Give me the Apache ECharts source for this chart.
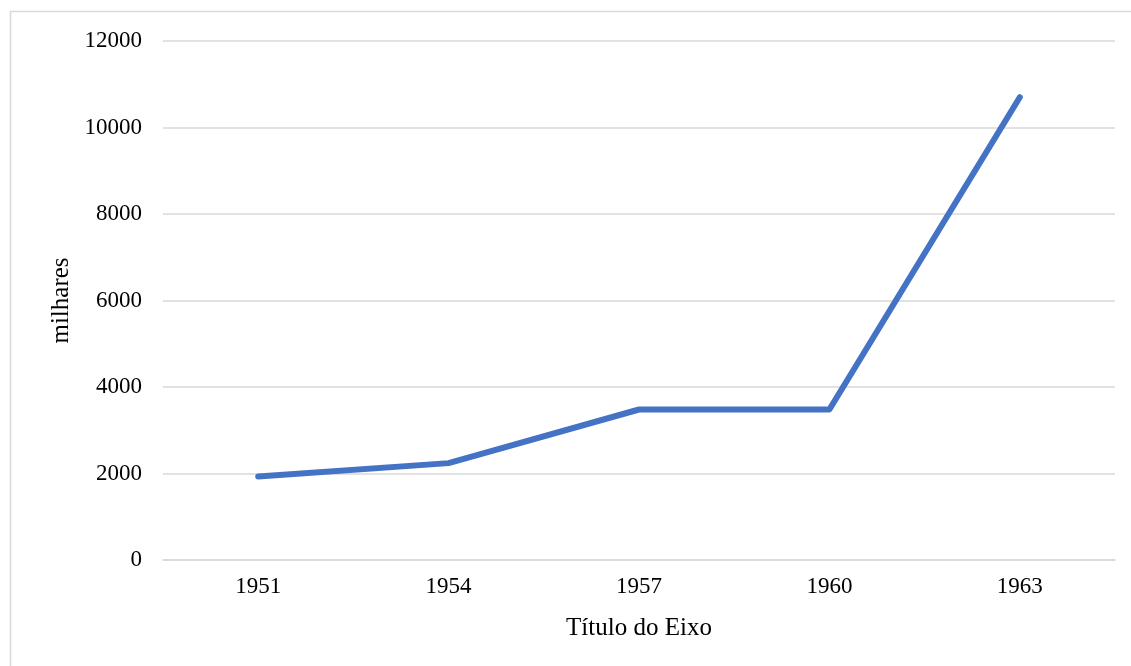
<!DOCTYPE html>
<html>
<head>
<meta charset="utf-8">
<script src="https://cdn.jsdelivr.net/npm/echarts@6/dist/echarts.min.js"></script>
<style>
  html, body { margin: 0; padding: 0; background: #fff; }
  #chart { width: 1131px; height: 666px; }
</style>
</head>
<body>
<div id="chart"></div>
<script>
// Anos e valores (milhares)
const years = ['1951', '1954', '1957', '1960', '1963'];
const values = [1930, 2240, 3480, 3480, 10700];
const yTicks = { min: 0, max: 12000, interval: 2000 };

const font = '"Liberation Serif", "Times New Roman", serif';

const chart = echarts.init(document.getElementById('chart'), null, { renderer: 'canvas' });
chart.setOption({
  animation: false,
  backgroundColor: '#ffffff',
  graphic: [{
    type: 'rect',
    shape: { x: 10.5, y: 11.5, width: 1200, height: 700 },
    style: { fill: 'none', stroke: '#d9d9d9', lineWidth: 1.5 },
    silent: true
  }],
  grid: { left: 163, right: 16, top: 41, bottom: 106, containLabel: false },
  xAxis: {
    type: 'category',
    data: years,
    boundaryGap: true,
    name: 'Título do Eixo',
    nameLocation: 'middle',
    nameGap: 56,
    nameTextStyle: { fontFamily: font, fontSize: 25, color: '#000' },
    axisLine: { show: true, lineStyle: { color: '#d9d9d9', width: 1.5 } },
    axisTick: { show: false },
    axisLabel: { fontFamily: font, fontSize: 23, color: '#000', margin: 15 }
  },
  yAxis: {
    type: 'value',
    min: yTicks.min,
    max: yTicks.max,
    interval: yTicks.interval,
    name: 'milhares',
    nameLocation: 'middle',
    nameGap: 88,
    nameRotate: 90,
    nameTextStyle: { fontFamily: font, fontSize: 25, color: '#000' },
    axisLine: { show: false },
    axisTick: { show: false },
    axisLabel: {
      fontFamily: font, fontSize: 23, color: '#000', margin: 21,
      formatter: (v) => String(v)
    },
    splitLine: { lineStyle: { color: '#d9d9d9', width: 1.5 } }
  },
  series: [{
    type: 'line',
    data: values,
    symbol: 'none',
    lineStyle: { color: '#4472c4', width: 6, cap: 'round', join: 'round' }
  }]
});
</script>
</body>
</html>
